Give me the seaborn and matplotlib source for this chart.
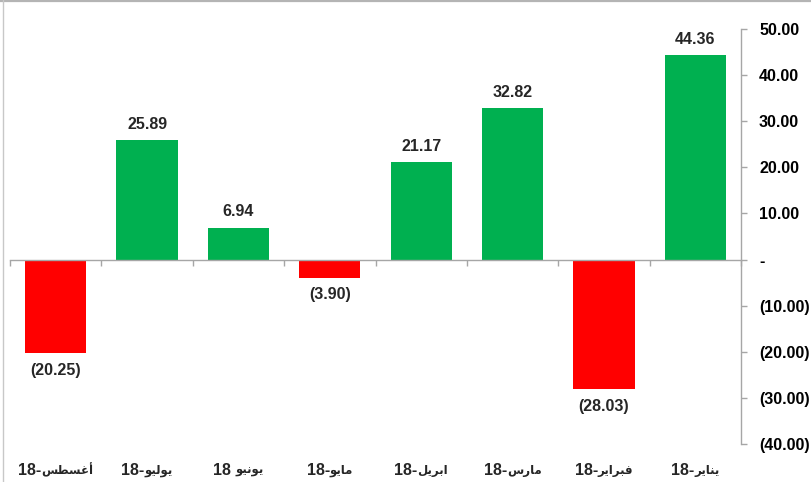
import matplotlib
matplotlib.use("Agg")
import matplotlib.pyplot as plt
from matplotlib.lines import Line2D
from matplotlib.ticker import FuncFormatter, FixedLocator
import seaborn as sns
import pandas as pd

# Monthly values, in chart order (left to right)
months = ["أغسطس-18", "يوليو-18", "يونيو 18", "مايو-18",
          "ابريل-18", "مارس-18", "فبراير-18", "يناير-18"]
values = [-20.25, 25.89, 6.94, -3.90, 21.17, 32.82, -28.03, 44.36]
y_ticks = [-40, -30, -20, -10, 0, 10, 20, 30, 40, 50]

POS_COLOR = "#00B050"
NEG_COLOR = "#FF0000"
AXIS_GRAY = "#A6A6A6"
LATIN = ["Liberation Sans", "DejaVu Sans"]
ARABIC = ["DejaVu Sans"]

# Arabic contextual forms: (isolated, final, initial, medial)
FORMS = {
    "ا": ("\uFE8D", "\uFE8E", None, None),
    "أ": ("\uFE83", "\uFE84", None, None),
    "ر": ("\uFEAD", "\uFEAE", None, None),
    "و": ("\uFEED", "\uFEEE", None, None),
    "ب": ("\uFE8F", "\uFE90", "\uFE91", "\uFE92"),
    "س": ("\uFEB1", "\uFEB2", "\uFEB3", "\uFEB4"),
    "ط": ("\uFEC1", "\uFEC2", "\uFEC3", "\uFEC4"),
    "غ": ("\uFECD", "\uFECE", "\uFECF", "\uFED0"),
    "ف": ("\uFED1", "\uFED2", "\uFED3", "\uFED4"),
    "ل": ("\uFEDD", "\uFEDE", "\uFEDF", "\uFEE0"),
    "م": ("\uFEE1", "\uFEE2", "\uFEE3", "\uFEE4"),
    "ن": ("\uFEE5", "\uFEE6", "\uFEE7", "\uFEE8"),
    "ي": ("\uFEF1", "\uFEF2", "\uFEF3", "\uFEF4"),
}


def shape_word(word):
    out = []
    for i, ch in enumerate(word):
        iso, fin, ini, med = FORMS[ch]
        prev = word[i - 1] if i > 0 else None
        nxt = word[i + 1] if i < len(word) - 1 else None
        jp = prev is not None and FORMS[prev][2] is not None
        jn = nxt is not None and ini is not None
        if jp and jn:
            out.append(med)
        elif jp:
            out.append(fin)
        elif jn:
            out.append(ini)
        else:
            out.append(iso)
    return "".join(out)


def split_label(label):
    """Return (number part, arabic word) in right-to-left display order."""
    i = 0
    while i < len(label) and label[i] in FORMS:
        i += 1
    word, rest = label[:i], label[i:]
    sep, digits = rest[0], rest[1:]
    return digits + sep, shape_word(word)[::-1]


def fmt_num(v):
    if abs(v) < 1e-9:
        return "-"
    return f"{v:.2f}" if v > 0 else f"({abs(v):.2f})"


sns.set_style("white")
plt.rcParams["font.family"] = LATIN
plt.rcParams["font.weight"] = "bold"

df = pd.DataFrame({"month": months, "value": values})
colors = [POS_COLOR if v >= 0 else NEG_COLOR for v in values]

fig = plt.figure(figsize=(8.11, 4.82), dpi=100)
ax = fig.add_axes([10 / 811, 1 - 444 / 482, 731 / 811, 415 / 482])

sns.barplot(data=df, x="month", y="value", hue="month", palette=colors,
            legend=False, width=0.67, saturation=1, ax=ax, linewidth=0)

ax.set_xlim(-0.5, len(months) - 0.5)
ax.set_ylim(-40, 50)
ax.set_xlabel("")
ax.set_ylabel("")

# Value labels
for i, v in enumerate(values):
    if v >= 0:
        ax.annotate(fmt_num(v), (i, v), xytext=(0, 6), textcoords="offset points",
                    ha="center", va="bottom", fontsize=11.5, fontweight="bold")
    else:
        ax.annotate(fmt_num(v), (i, v), xytext=(0, -7), textcoords="offset points",
                    ha="center", va="top", fontsize=11.5, fontweight="bold")

# Spines: category axis at zero, value axis on the right
for s in ["top", "left"]:
    ax.spines[s].set_visible(False)
ax.spines["bottom"].set_position(("data", 0))
ax.spines["bottom"].set_color(AXIS_GRAY)
ax.spines["right"].set_color(AXIS_GRAY)
ax.spines["bottom"].set_linewidth(1)
ax.spines["right"].set_linewidth(1)

ax.xaxis.set_major_locator(FixedLocator([i - 0.5 for i in range(len(months) + 1)]))
ax.tick_params(axis="x", which="major", direction="out", length=4, width=1,
               color=AXIS_GRAY, labelbottom=False, bottom=True)

ax.yaxis.tick_right()
ax.set_yticks(y_ticks)
ax.yaxis.set_major_formatter(FuncFormatter(lambda v, p: fmt_num(v)))
ax.tick_params(axis="y", direction="out", length=4, width=1, color=AXIS_GRAY,
               pad=9, labelsize=11.5, labelcolor="black")
for t in ax.get_yticklabels():
    t.set_fontweight("bold")

# Month labels under the plot area: number on the left, Arabic word on the right
trans = ax.get_xaxis_transform()
pairs = []
for i, m in enumerate(months):
    num, word = split_label(m)
    a = ax.annotate(num, (i, -0.0627), xycoords=trans, xytext=(0, 0),
                    textcoords="offset pixels", ha="right", va="center",
                    fontsize=11.5, fontweight="bold", family=LATIN)
    b = ax.annotate(word, (i, -0.0627), xycoords=trans, xytext=(0, 0),
                    textcoords="offset pixels", ha="left", va="center_baseline",
                    fontsize=8.5, fontweight="bold", family=ARABIC)
    pairs.append((a, b))

fig.canvas.draw()
r = fig.canvas.get_renderer()
for a, b in pairs:
    wa = a.get_window_extent(r).width
    wb = b.get_window_extent(r).width
    shift = (wa - wb) / 2
    a.xyann = (shift, 0)
    b.xyann = (shift, 1)

# Chart frame (top and left edges)
fig.add_artist(Line2D([0, 1], [1 - 0.8 / 482, 1 - 0.8 / 482], transform=fig.transFigure,
                      color="#B4B4B4", lw=1.6))
fig.add_artist(Line2D([3.5 / 811, 3.5 / 811], [0, 1], transform=fig.transFigure,
                      color="#C8C8C8", lw=1.0))

fig.savefig("out.png", dpi=100)
